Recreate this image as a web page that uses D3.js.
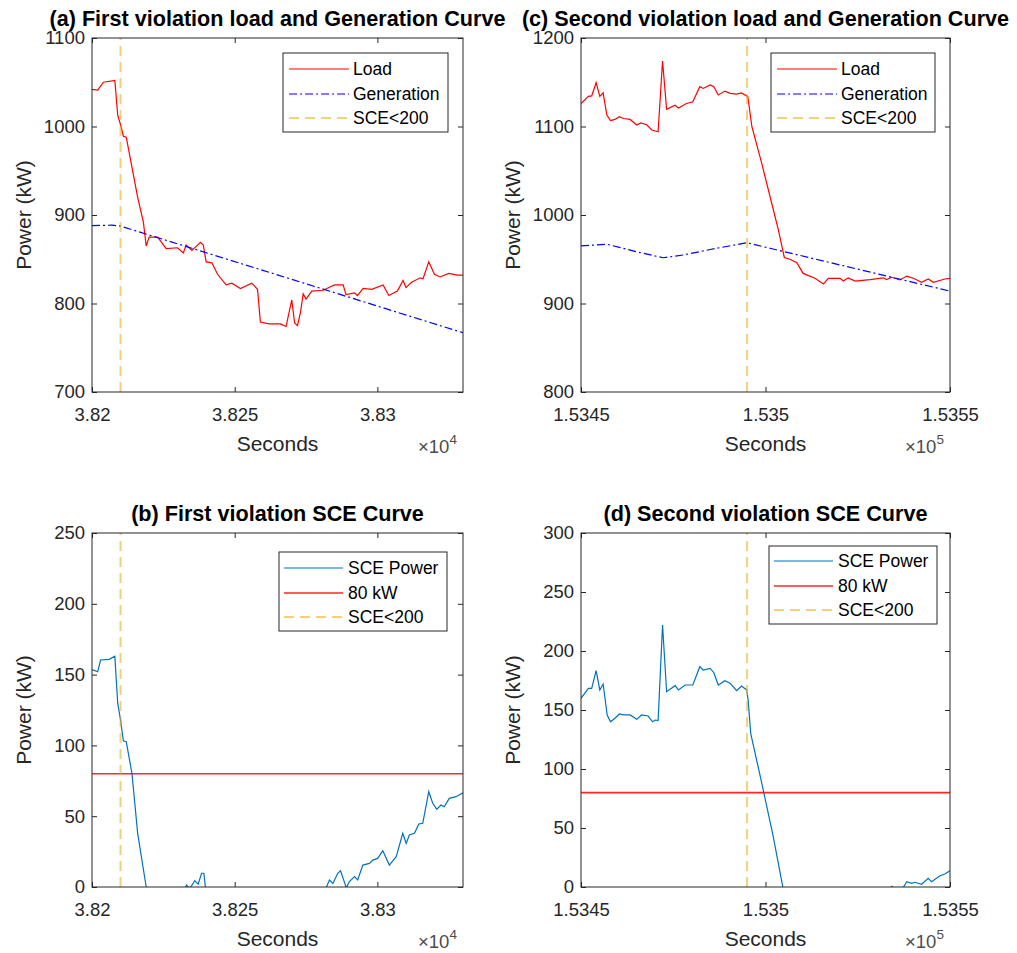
<!DOCTYPE html>
<html>
<head>
<meta charset="utf-8">
<script src="https://cdn.jsdelivr.net/npm/d3@7"></script>
<style>
body { margin: 0; background: #fff; }
text { font-family: "Liberation Sans", Arial, sans-serif; fill: #262626; }
</style>
</head>
<body>
<svg id="chart" width="1017" height="953"></svg>
<script>
// ---- data ----
// first violation (seconds, kW)
var loadA_t = [38200,38202,38204,38208,38209,38210,38211,38212,38214,38216,38218,38219,38220,38223,38226,38230,38232,38233,38235,38237,38238,38239,38240,38242,38244,38247,38249,38252,38256,38258,38259,38262,38266,38268,38270,38271,38272,38273,38274,38275,38277,38281,38283,38285,38288,38289,38292,38293,38295,38298,38302,38304,38307,38309,38310,38312,38315,38316,38318,38320,38322,38325,38328,38330];
var loadA_v = [1042,1041,1050,1052,1013,1002,989,988,954,920,892,865,875,875,862,863,857,866,860,866,869,866,847,846,833,821,823,817,823,816,779,777,777,774,804,778,775,789,811,805,814,815,818,821,821,810,812,809,817,816,821,809,814,826,818,824,829,828,847,833,830,834,832,832];
var genA_t = [38200,38207,38210,38330];
var genA_v = [888,888.5,887.5,767];
var sceA_t = [38200,38202,38203,38206,38208,38209,38210,38211,38212,38214,38216,38219,38222,38228,38232,38233.1,38234.3,38236,38237.2,38238.4,38239.2,38239.8,38242,38250,38260,38268,38274,38280,38283.2,38284.4,38286.1,38287.1,38289.1,38290.2,38292,38293.1,38294.9,38297.2,38298.4,38300.1,38301.9,38304.2,38306.6,38308.9,38310.1,38311.2,38313,38314.5,38315.9,38318,38319.4,38320.8,38322.3,38323.4,38325.2,38327.5,38330];
var sceA_v = [153.6,152,160.3,160.8,163,130,118,103.3,102.6,80.3,37.9,0,-15,-12,-4,1.4,-1,4.5,2,9.7,9.7,-1,-20,-50,-60,-65,-30,-10,4.9,2.5,9.7,11.5,-0.5,3.8,7.3,5,15.5,16.7,19,20.2,25.6,15.5,21.4,37.9,30.8,36.7,37.9,44.5,45,67.3,59.1,54.9,57.9,56.7,62.6,63.8,66.6];
var violationA = 38210;

// second violation
var loadC_t = [153450,153452,153452.9,153454.1,153455.1,153456,153457,153458,153459.2,153460.4,153461.5,153463.3,153465.1,153466.2,153467.8,153469.2,153470.9,153472.1,153473.2,153475.5,153476.4,153478.6,153480.3,153482.2,153483.1,153485,153486,153487.2,153489,153490.4,153492.2,153493.5,153495.2,153496.3,153499,153501.7,153503.5,153505.1,153506.6,153508.5,153510.2,153513.4,153515.7,153517,153520.2,153521.1,153522.4,153524.3,153528.3,153531.9,153532.8,153534.2,153536.4,153538.3,153540.1,153542.3,153544.1,153545.5,153548.6,153550];
var loadC_v = [1126,1134,1134.5,1149.5,1134,1138,1113,1106.6,1108,1111,1109,1108,1101.7,1104,1102,1096,1094,1174,1119.4,1124,1121,1126,1128,1145,1143,1147,1145,1135.6,1140,1137.5,1136.7,1138,1133.7,1100,1058,1013,983,952,950,946,934,928.5,922,928.5,928.5,925.4,929,925.4,927,929,927,929.6,926.6,931,928.5,924,927.7,924,927.7,928.5];
var genC_t = [153450,153457,153465,153472.3,153477.7,153485,153494.9,153501.2,153550];
var genC_v = [965,967,958.5,951.7,954.8,961,968.7,962.4,914];
var sceC_t = [153450,153452,153452.9,153454.1,153455.1,153456,153457.1,153458,153459.2,153460.4,153461.5,153463.3,153465.1,153466.4,153468.2,153469.4,153470.1,153470.9,153472.1,153473.2,153475.5,153476.4,153478.2,153480.3,153482.2,153483.1,153485,153486,153487.2,153489,153490.4,153492.2,153493.5,153494.9,153495.3,153496,153499,153502.1,153504.7,153508,153515,153522,153528,153533,153534.2,153536,153537.4,153538.3,153539.6,153540.5,153542.3,153544.1,153545,153547.3,153548.6,153550];
var sceC_v = [159.9,168.4,168.4,183.3,167,172,145.8,140,143,146.6,145.8,145.8,142.1,145.8,144.9,140,141.5,141,222,165.5,170.6,167,171.2,171.2,186.7,183.9,185.3,181.6,171.2,174.8,172.6,166.4,170.3,167,158.5,130,87.9,42.6,0,-20,-32,-28,-20,-6,0.5,-3,0,4.5,3.1,4,2.3,7.3,4.5,9.6,11,13.8];
var violationC = 153495;

var threshold = 80;

// ---- styles ----
var styles = {
    load:  { color: "#ff0000", width: 1.2, dash: null, opacity: 1 },
    gen:   { color: "#0000ff", width: 1.2, dash: "8,3,2,3", opacity: 1 },
    vline: { color: "#EDB120", width: 2, dash: "10,6", opacity: 0.6 },
    sce:   { color: "#0072BD", width: 1.2, dash: null, opacity: 1 },
    thr:   { color: "#ff0000", width: 1.6, dash: null, opacity: 0.85 }
};

var svg = d3.select("#chart");

var panels = [
    { title: "(a) First violation load and Generation Curve",
      left: 92, right: 463, top: 38, bottom: 392,
      xDomain: [38200, 38330], xTicks: [38200, 38250, 38300], exp: 4,
      yDomain: [700, 1100], yTicks: d3.range(700, 1101, 100),
      lines: [["Load", d3.zip(loadA_t, loadA_v), "load"], ["Generation", d3.zip(genA_t, genA_v), "gen"]],
      vline: violationA,
      legend: { x: 283, y: 53, w: 165, h: 79, x1: 289, x2: 349, tx: 353, rows: [69, 94, 118] } },
    { title: "(c) Second violation load and Generation Curve",
      left: 581, right: 950, top: 38, bottom: 392,
      xDomain: [153450, 153550], xTicks: [153450, 153500, 153550], exp: 5,
      yDomain: [800, 1200], yTicks: d3.range(800, 1201, 100),
      lines: [["Load", d3.zip(loadC_t, loadC_v), "load"], ["Generation", d3.zip(genC_t, genC_v), "gen"]],
      vline: violationC,
      legend: { x: 771, y: 53, w: 164, h: 79, x1: 777, x2: 837, tx: 841, rows: [69, 94, 118] } },
    { title: "(b) First violation SCE Curve",
      left: 92, right: 463, top: 533, bottom: 887,
      xDomain: [38200, 38330], xTicks: [38200, 38250, 38300], exp: 4,
      yDomain: [0, 250], yTicks: d3.range(0, 251, 50),
      lines: [["SCE Power", d3.zip(sceA_t, sceA_v), "sce"], ["80 kW", [[38200, threshold], [38330, threshold]], "thr"]],
      vline: violationA,
      legend: { x: 279, y: 552, w: 168, h: 79, x1: 284, x2: 343, tx: 348, rows: [568, 593, 617] } },
    { title: "(d) Second violation SCE Curve",
      left: 581, right: 950, top: 533, bottom: 887,
      xDomain: [153450, 153550], xTicks: [153450, 153500, 153550], exp: 5,
      yDomain: [0, 300], yTicks: d3.range(0, 301, 50),
      lines: [["SCE Power", d3.zip(sceC_t, sceC_v), "sce"], ["80 kW", [[153450, threshold], [153550, threshold]], "thr"]],
      vline: violationC,
      legend: { x: 769, y: 546, w: 168, h: 78, x1: 774, x2: 833, tx: 838, rows: [561, 586, 610] } }
];

function applyStyle(sel, st) {
    sel.attr("fill", "none")
        .attr("stroke", st.color)
        .attr("stroke-width", st.width)
        .attr("stroke-opacity", st.opacity)
        .attr("stroke-dasharray", st.dash);
}

panels.forEach(function(p, i) {
    var x = d3.scaleLinear().domain(p.xDomain).range([p.left, p.right]);
    var y = d3.scaleLinear().domain(p.yDomain).range([p.bottom, p.top]);
    var g = svg.append("g");

    var clipId = "clip" + i;
    svg.append("clipPath").attr("id", clipId)
        .append("rect")
        .attr("x", p.left).attr("y", p.top)
        .attr("width", p.right - p.left).attr("height", p.bottom - p.top);

    var line = d3.line().x(d => x(d[0])).y(d => y(d[1]));
    var plot = g.append("g").attr("clip-path", "url(#" + clipId + ")");

    p.lines.forEach(function(s) {
        plot.append("path").datum(s[1]).attr("d", line).call(applyStyle, styles[s[2]]);
    });
    plot.append("path")
        .datum([[p.vline, p.yDomain[0]], [p.vline, p.yDomain[1]]])
        .attr("d", line)
        .call(applyStyle, styles.vline);

    // axes (ticks inward, mirrored like a boxed matlab axes)
    var fmt = d => String(+(d / Math.pow(10, p.exp)).toPrecision(6));
    var ax = [
        g.append("g").attr("transform", "translate(0," + p.bottom + ")")
            .call(d3.axisBottom(x).tickValues(p.xTicks).tickSize(-5).tickPadding(16).tickFormat(fmt)),
        g.append("g").attr("transform", "translate(0," + p.top + ")")
            .call(d3.axisTop(x).tickValues(p.xTicks).tickSize(-5).tickFormat("")),
        g.append("g").attr("transform", "translate(" + p.left + ",0)")
            .call(d3.axisLeft(y).tickValues(p.yTicks).tickSize(-5).tickPadding(7).tickFormat(d3.format("d"))),
        g.append("g").attr("transform", "translate(" + p.right + ",0)")
            .call(d3.axisRight(y).tickValues(p.yTicks).tickSize(-5).tickFormat(""))
    ];
    ax.forEach(function(a) {
        a.select(".domain").remove();
        a.selectAll(".tick line").attr("stroke", "#262626");
        a.selectAll(".tick text").attr("font-size", "18.5px").attr("fill", "#262626")
            .style("font-family", '"Liberation Sans", Arial, sans-serif');
    });

    g.append("rect")
        .attr("x", p.left).attr("y", p.top)
        .attr("width", p.right - p.left).attr("height", p.bottom - p.top)
        .attr("fill", "none").attr("stroke", "#262626").attr("stroke-width", 1);

    // titles and labels
    g.append("text")
        .attr("x", (p.left + p.right) / 2).attr("y", p.top - 12)
        .attr("text-anchor", "middle")
        .attr("font-size", "21.6px").attr("font-weight", "bold")
        .style("fill", "#000")
        .text(p.title);

    g.append("text")
        .attr("x", (p.left + p.right) / 2).attr("y", p.bottom + 58.5)
        .attr("text-anchor", "middle")
        .attr("font-size", "21px")
        .text("Seconds");

    g.append("text")
        .attr("transform", "translate(" + (p.left - 61) + "," + (p.top + p.bottom) / 2 + ") rotate(-90)")
        .attr("text-anchor", "middle")
        .attr("font-size", "21px")
        .text("Power (kW)");

    var ex = g.append("text")
        .attr("x", p.right - 45).attr("y", p.bottom + 61)
        .attr("font-size", "18.5px")
        .style("fill", "#4d4d4d");
    ex.append("tspan").text("\u00d710");
    ex.append("tspan").attr("dy", -9).attr("font-size", "13.5px").text(p.exp);

    // legend
    var L = p.legend;
    var lg = g.append("g");
    lg.append("rect")
        .attr("x", L.x).attr("y", L.y).attr("width", L.w).attr("height", L.h)
        .attr("fill", "#fff").attr("stroke", "#262626").attr("stroke-width", 1);
    var entries = p.lines.map(s => [s[0], s[2]]).concat([["SCE<200", "vline"]]);
    entries.forEach(function(e, k) {
        lg.append("line")
            .attr("x1", L.x1).attr("x2", L.x2)
            .attr("y1", L.rows[k]).attr("y2", L.rows[k])
            .call(applyStyle, styles[e[1]]);
        lg.append("text")
            .attr("x", L.tx).attr("y", L.rows[k])
            .attr("dominant-baseline", "central")
            .attr("font-size", "17.5px")
            .style("fill", "#000")
            .text(e[0]);
    });
});
</script>
</body>
</html>
